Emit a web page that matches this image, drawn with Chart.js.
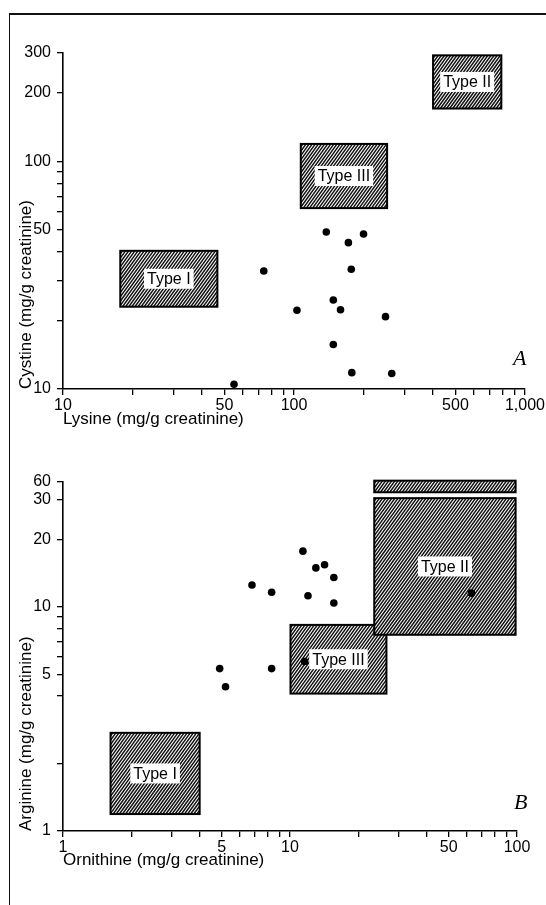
<!DOCTYPE html>
<html><head><meta charset="utf-8">
<script src="https://cdn.jsdelivr.net/npm/chart.js@4"></script>
<style>
html,body{margin:0;padding:0;background:#fff;}
body{width:546px;height:905px;position:relative;overflow:hidden;}
#frame{position:absolute;left:9px;top:13px;width:560px;height:920px;border-top:2px solid #111;border-left:1.5px solid #111;}
canvas{position:absolute;left:0;}
#cA{top:0}
#cB{top:440px}
.pl{position:absolute;font-family:"Liberation Serif",serif;font-style:italic;font-size:22px;color:#000;line-height:22px;}
</style></head><body>
<div id="frame"></div>
<canvas id="cA" width="546" height="430"></canvas>
<canvas id="cB" width="546" height="431"></canvas>
<div class="pl" style="left:513px;top:347px">A</div>
<div class="pl" style="left:514px;top:791px">B</div>
<script>
// ---------- Panel A : Lysine vs Cystine ----------
const lysine  = [138, 200, 172, 74, 177, 148, 103, 159, 249, 148, 178, 265, 55];
const cystine = [49, 48, 44, 33, 33.6, 24.6, 22.2, 22.3, 20.8, 15.7, 11.8, 11.7, 10.5];
const boxLabelsA = ['Type I', 'Type III', 'Type II'];
const boxXA = [[17.7, 46.6], [107, 253], [400, 790]];
const boxYA = [[23, 40.5], [62.4, 119.5], [171, 293]];
const xTickValuesA = [10,20,30,40,50,60,70,80,90,100,200,300,400,500,600,700,800,900,1000];
const xTickLabelsA = ['10','','','','50','','','','','100','','','','500','','','','','1,000'];
const yTickValuesA = [10,20,30,40,50,60,70,80,90,100,200,300];
const yTickLabelsA = ['10','','','','50','','','','','100','200','300'];

// ---------- Panel B : Ornithine vs Arginine ----------
const ornithine = [6.8, 8.3, 11.4, 13.0, 14.2, 15.6, 12.0, 15.6, 63, 4.9, 5.2, 8.3, 11.6];
const arginine  = [12.5, 11.6, 17.7, 14.9, 15.4, 13.5, 11.2, 10.4, 11.5, 5.3, 4.4, 5.3, 5.7];
const boxLabelsB = ['Type I', 'Type III', 'Type II', ''];
const boxXB = [[1.62, 4.0], [10.05, 26.6], [23.5, 98.6], [23.5, 98.6]];
const boxYB = [[1.19, 2.74], [4.1, 8.3], [7.5, 30.5], [32.4, 36.5]];
const xTickValuesB = [1,2,3,4,5,6,7,8,9,10,20,30,40,50,60,70,80,90,100];
const xTickLabelsB = ['1','','','','5','','','','','10','','','','50','','','','','100'];
const yTickValuesB = [1,2,4,5,6,7,8,9,10,20,30,36];
const yTickLabelsB = ['1','','','5','','','','','10','20','30','60'];

const FAM = '"Liberation Sans", Arial, sans-serif';

function hatchBox(ctx, x0, y0, x1, y1) {
  ctx.save();
  ctx.beginPath(); ctx.rect(x0, y0, x1 - x0, y1 - y0); ctx.clip();
  ctx.fillStyle = '#fff'; ctx.fillRect(x0, y0, x1 - x0, y1 - y0);
  ctx.strokeStyle = '#111'; ctx.lineWidth = 1.5;
  const h = y1 - y0, k = 0.72;
  ctx.beginPath();
  for (let x = x0 - h * k - 4; x < x1 + 4; x += 3.1) {
    ctx.moveTo(x, y1); ctx.lineTo(x + h * k, y0);
  }
  ctx.stroke();
  ctx.restore();
  ctx.save();
  ctx.strokeStyle = '#000'; ctx.lineWidth = 2;
  ctx.strokeRect(x0, y0, x1 - x0, y1 - y0);
  ctx.restore();
}

function boxPlugin(bx, by, labels) {
  return {
    id: 'boxes',
    beforeDatasetsDraw(chart) {
      const ctx = chart.ctx, xs = chart.scales.x, ys = chart.scales.y;
      bx.forEach((r, i) => {
        const x0 = xs.getPixelForValue(r[0]), x1 = xs.getPixelForValue(r[1]);
        const y1 = ys.getPixelForValue(by[i][0]), y0 = ys.getPixelForValue(by[i][1]);
        hatchBox(ctx, x0, y0, x1, y1);
      });
      bx.forEach((r, i) => {
        if (!labels[i]) return;
        const x0 = xs.getPixelForValue(r[0]), x1 = xs.getPixelForValue(r[1]);
        const y1 = ys.getPixelForValue(by[i][0]), y0 = ys.getPixelForValue(by[i][1]);
        const cx = (x0 + x1) / 2, cy = (y0 + y1) / 2;
        ctx.save();
        ctx.font = '16px ' + FAM;
        const w = ctx.measureText(labels[i]).width;
        ctx.fillStyle = '#fff';
        ctx.fillRect(cx - w / 2 - 3, cy - 10, w + 6, 20);
        ctx.fillStyle = '#000'; ctx.textAlign = 'center'; ctx.textBaseline = 'middle';
        ctx.fillText(labels[i], cx, cy + 1);
        ctx.restore();
      });
    }
  };
}

function makeChart(id, xs, ys, bx, by, labels, xTV, xTL, yTV, yTL, xmin, xmax, ymin, ymax, xTitle, yTitle, padTop, padRight, xH) {
  return new Chart(document.getElementById(id), {
    type: 'scatter',
    data: { datasets: [{
      data: xs.map((x, i) => ({ x: x, y: ys[i] })),
      backgroundColor: '#000', borderWidth: 0, pointRadius: 3.8, pointHoverRadius: 3.8
    }]},
    options: {
      responsive: false, animation: false,
      layout: { padding: { top: padTop, right: padRight, left: 0, bottom: 0 } },
      plugins: { legend: { display: false }, tooltip: { enabled: false } },
      scales: {
        x: {
          type: 'logarithmic', min: xmin, max: xmax,
          afterBuildTicks: s => { s.ticks = xTV.map(v => ({ value: v })); },
          afterFit: s => { s.height = xH; },
          ticks: { autoSkip: false, maxRotation: 0, minRotation: 0, padding: 1, color: '#000',
                   font: { family: FAM, size: 16 }, callback: (v, i) => xTL[i] },
          grid: { drawOnChartArea: false, drawTicks: true, tickLength: 6, color: '#000', lineWidth: 1.3 },
          border: { color: '#000', width: 1.6 },
          title: { display: true, text: xTitle, align: 'start', padding: 0, color: '#000',
                   font: { family: FAM, size: 17 } }
        },
        y: {
          type: 'logarithmic', min: ymin, max: ymax,
          afterBuildTicks: s => { s.ticks = yTV.map(v => ({ value: v })); },
          afterFit: s => { s.width = 63; },
          ticks: { autoSkip: false, padding: 6, color: '#000',
                   font: { family: FAM, size: 16 }, callback: (v, i) => yTL[i] },
          grid: { drawOnChartArea: false, drawTicks: true, tickLength: 6, color: '#000', lineWidth: 1.3 },
          border: { color: '#000', width: 1.6 },
          title: { display: true, text: yTitle, align: 'start', padding: { top: 16, bottom: 0 }, color: '#000',
                   font: { family: FAM, size: 17 } }
        }
      }
    },
    plugins: [boxPlugin(bx, by, labels)]
  });
}

makeChart('cA', lysine, cystine, boxXA, boxYA, boxLabelsA,
  xTickValuesA, xTickLabelsA, yTickValuesA, yTickLabelsA, 10, 1000, 10, 300,
  'Lysine (mg/g creatinine)', 'Cystine (mg/g creatinine)', 53, 16, 41);

makeChart('cB', ornithine, arginine, boxXB, boxYB, boxLabelsB,
  xTickValuesB, xTickLabelsB, yTickValuesB, yTickLabelsB, 1, 100, 1, 36,
  'Ornithine (mg/g creatinine)', 'Arginine (mg/g creatinine)', 42, 29, 40);
</script>
</body></html>
